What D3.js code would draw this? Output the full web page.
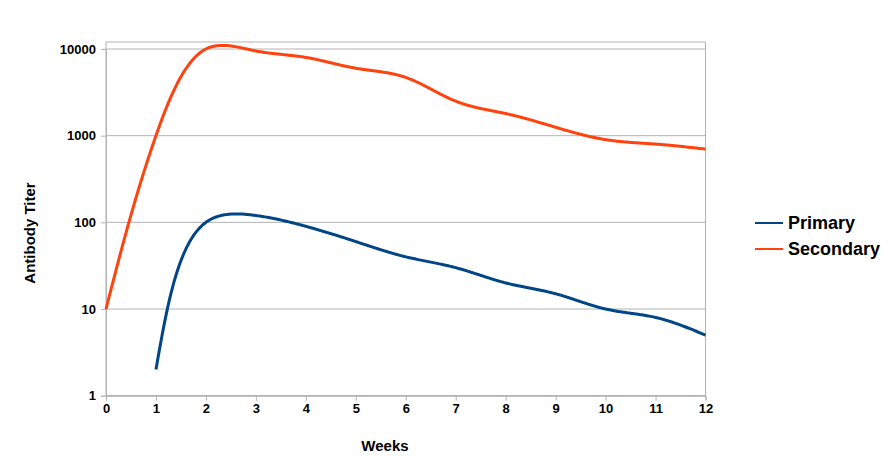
<!DOCTYPE html>
<html><head><meta charset="utf-8">
<script src="https://cdn.jsdelivr.net/npm/d3@7"></script>
<style>body{margin:0;background:#fff}svg{display:block;font-family:"Liberation Sans",Arial,sans-serif}</style>
</head><body><svg id="c" width="888" height="456"></svg>
<script>
const weeks = [0,1,2,3,4,5,6,7,8,9,10,11,12];
const primaryWeeks = [1,2,3,4,5,6,7,8,9,10,11,12];
const primary = [2,100,120,90,60,40,30,20,15,10,8,5];
const secondary = [10,1000,10000,9500,8000,6000,4700,2500,1800,1250,900,800,700];
const yTicks = [1,10,100,1000,10000];
const seriesNames = ["Primary","Secondary"];
const colors = ["#004586","#ff420e"];

const svg = d3.select("#c");
const x = d3.scaleLinear().domain([0,12]).range([106,705.5]);
const y = d3.scaleLog().domain([1,10000]).range([395.7,49]);
const plotTop = 42;

// gridlines
svg.append("g").selectAll("line").data(yTicks).join("line")
  .attr("x1",x(0)).attr("x2",x(12)).attr("y1",d=>y(d)).attr("y2",d=>y(d))
  .attr("stroke","#b3b3b3").attr("stroke-width",1);
// frame
svg.append("rect").attr("x",x(0)).attr("y",plotTop).attr("width",x(12)-x(0)).attr("height",y(1)-plotTop)
  .attr("fill","none").attr("stroke","#b3b3b3");

const xAxis = svg.append("g").attr("transform",`translate(0,${y(1)})`)
  .call(d3.axisBottom(x).tickValues(weeks).tickSize(5).tickPadding(3).tickFormat(d3.format("d")));
const yAxis = svg.append("g").attr("transform",`translate(${x(0)},0)`)
  .call(d3.axisLeft(y).tickValues(yTicks).tickSize(5).tickPadding(5).tickFormat(d3.format("d")));
[xAxis,yAxis].forEach(a=>{
  a.select(".domain").attr("stroke","#b3b3b3");
  a.selectAll(".tick line").attr("stroke","#b3b3b3");
  a.selectAll("text").attr("font-size",13).attr("font-weight","bold").attr("fill","#000")
    .attr("font-family","Liberation Sans, Arial, sans-serif");
});

// parametric natural cubic spline; parameter = chord length in axis units (weeks, decades)
function natural(t, v){
  const n = t.length-1, M = new Array(n+1).fill(0);
  if(n<2) return M;
  const a=[],b=[],c=[],r=[];
  for(let i=1;i<n;i++){
    const h0=t[i]-t[i-1], h1=t[i+1]-t[i];
    a.push(h0); b.push(2*(h0+h1)); c.push(h1);
    r.push(6*((v[i+1]-v[i])/h1-(v[i]-v[i-1])/h0));
  }
  const m=b.length;
  for(let i=1;i<m;i++){const w=a[i]/b[i-1]; b[i]-=w*c[i-1]; r[i]-=w*r[i-1];}
  const s=new Array(m); s[m-1]=r[m-1]/b[m-1];
  for(let i=m-2;i>=0;i--) s[i]=(r[i]-c[i]*s[i+1])/b[i];
  for(let i=0;i<m;i++) M[i+1]=s[i];
  return M;
}
function splinePoints(ws, vals, steps){
  const lx = ws, ly = vals.map(v=>Math.log10(v));
  const t=[0];
  for(let i=1;i<lx.length;i++) t.push(t[i-1]+Math.hypot(lx[i]-lx[i-1],ly[i]-ly[i-1]));
  const xs=ws.map(w=>x(w)), ys=vals.map(v=>y(v));
  const Mx=natural(t,xs), My=natural(t,ys);
  const ev=(M,v,i,tt)=>{const h=t[i+1]-t[i],A=t[i+1]-tt,B=tt-t[i];
    return M[i]*A*A*A/(6*h)+M[i+1]*B*B*B/(6*h)+(v[i]/h-M[i]*h/6)*A+(v[i+1]/h-M[i+1]*h/6)*B;};
  const out=[[xs[0],ys[0]]];
  for(let i=0;i<xs.length-1;i++){
    for(let k=1;k<=steps;k++){const tt=t[i]+(t[i+1]-t[i])*k/steps; out.push([ev(Mx,xs,i,tt),ev(My,ys,i,tt)]);}
  }
  return out;
}
const line = d3.line();
function drawSeries(ws, vals, col){
  svg.append("path").datum(splinePoints(ws, vals, 40))
    .attr("d",line).attr("fill","none").attr("stroke",col).attr("stroke-width",3).attr("stroke-linejoin","round");
}
drawSeries(primaryWeeks, primary, colors[0]);
drawSeries(weeks, secondary, colors[1]);

// axis titles
svg.append("text").attr("x",385).attr("y",451).attr("text-anchor","middle")
  .attr("font-size",15).attr("font-weight","bold").text("Weeks");
svg.append("text").attr("transform","translate(35,233) rotate(-90)").attr("text-anchor","middle")
  .attr("font-size",15).attr("font-weight","bold").text("Antibody Titer");

// legend
const lg = svg.append("g");
seriesNames.forEach((n,i)=>{
  const yy = 223 + i*26;
  lg.append("line").attr("x1",755).attr("x2",783).attr("y1",yy).attr("y2",yy)
    .attr("stroke",colors[i]).attr("stroke-width",2);
  lg.append("text").attr("x",788).attr("y",yy+6).attr("font-size",18).attr("font-weight","bold").text(n);
});
</script></body></html>
